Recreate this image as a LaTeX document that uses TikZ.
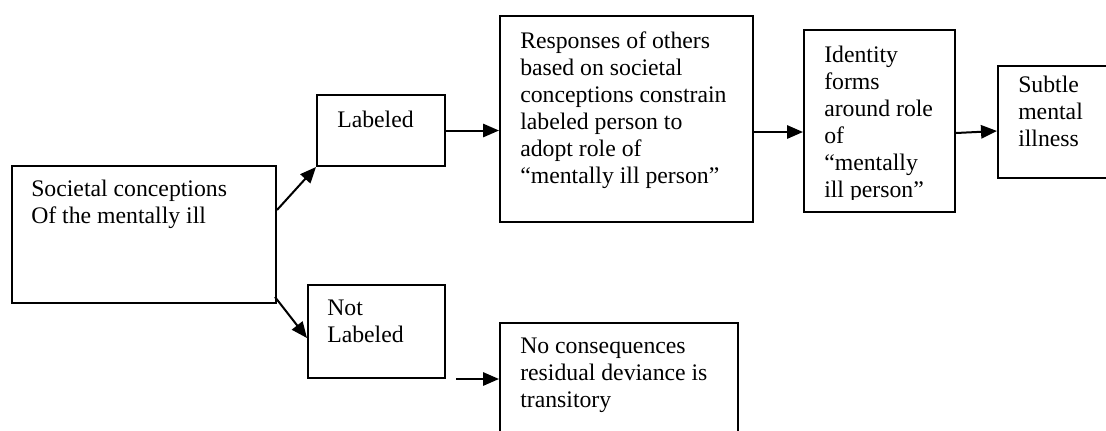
\documentclass[tikz,border=0pt]{standalone}
\usepackage{fontspec}
\setmainfont{Liberation Serif}
\usetikzlibrary{arrows.meta}

\tikzset{
  box/.style={draw, line width=1.5pt, inner sep=0pt, anchor=north west},
  txt/.style={anchor=north west, inner sep=0pt, align=left,
    font=\fontsize{17.8pt}{20.25pt}\selectfont},
  arr/.style={line width=1.5pt, -{Triangle[length=12pt,width=10pt]}},
}

\begin{document}
\begin{tikzpicture}[x=0.75pt,y=0.75pt,yscale=-1,xscale=1]
%set diagram left start at 0, and has height of 430
\clip (0,0) rectangle (1106,430);

%Shape: Rectangle [societal]
\node [box, minimum width=198pt, minimum height=102.75pt] (soc) at (11,165) {};
%Shape: Rectangle [labeled]
\node [box, minimum width=96pt, minimum height=53.25pt] (lab) at (316,94) {};
%Shape: Rectangle [not labeled]
\node [box, minimum width=102.75pt, minimum height=69.75pt] (notlab) at (307,284) {};
%Shape: Rectangle [responses]
\node [box, minimum width=189.75pt, minimum height=154.5pt] (resp) at (499,15) {};
%Shape: Rectangle [identity]
\node [box, minimum width=113.25pt, minimum height=136.5pt] (ident) at (803,29) {};
%Shape: Rectangle [subtle]
\node [box, minimum width=92.25pt, minimum height=84pt] (subtle) at (997,65) {};
%Shape: Rectangle [no consequences]
\node [box, minimum width=178.5pt, minimum height=96pt] (nocons) at (499,322) {};
\coordinate (nlout) at (456,379);

%Straight Lines
\draw [arr] ([yshift=33.75pt]soc.north east) -- (lab.south west);
%Straight Lines
\draw [arr] ([xshift=-1.5pt,yshift=-5.25pt]soc.south east) -- ([yshift=4.9pt]notlab.west);
%Straight Lines
\draw [arr] (lab.east) -- (resp.west |- lab.east);
%Straight Lines
\draw [arr] ([yshift=9.75pt]resp.east) -- ([yshift=8.25pt]ident.west);
%Straight Lines
\draw [arr] ([yshift=9pt]ident.east) -- ([yshift=6.75pt]subtle.west);
%Straight Lines
\draw [arr] (nlout) -- (nlout -| nocons.west);

% Text Node
\node [txt] (soctext) at (31,177.1) {\strut Societal conceptions\\Of the mentally ill};
% Text Node
\node [txt] (labtext) at (337,108.1) {\strut Labeled};
% Text Node
\node [txt] (notlabtext) at (327,296.1) {\strut Not\\Labeled};
% Text Node
\node [txt] (resptext) at (520,29.1) {\strut Responses of others\\based on societal\\conceptions constrain\\labeled person to\\adopt role of\\“mentally ill person”};
% Text Node
\begin{scope}
\clip (803,29) rectangle (954,199);
\node [txt] (identtext) at (824,43.1) {\strut Identity\\forms\\around role\\of\\“mentally\\ill person”};
\end{scope}
% Text Node
\node [txt] (subtletext) at (1018,73.1) {\strut Subtle\\mental\\illness};
% Text Node
\node [txt] (noconstext) at (520,334.1) {\strut No consequences\\residual deviance is\\transitory};

\end{tikzpicture}
\end{document}
